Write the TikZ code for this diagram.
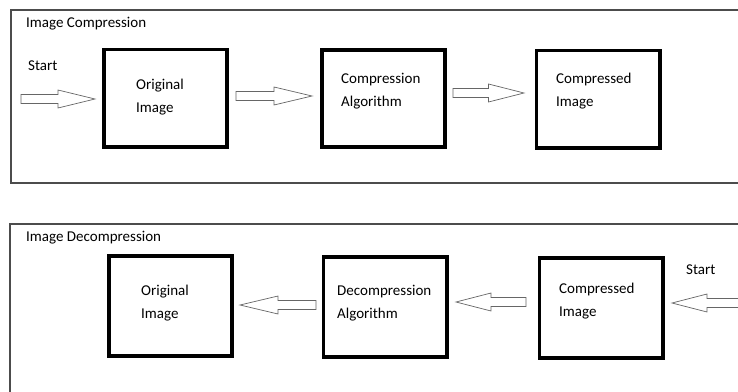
\documentclass[tikz,border=0pt]{standalone}
\usepackage{fontspec}
\setmainfont{Carlito}
\usetikzlibrary{calc}
\tikzset{
  cmpbox/.style = {draw=black, line width=3.8pt, minimum width=123.2pt,
    minimum height=97.2pt, inner sep=0pt},
  cmpboxb/.style = {cmpbox, minimum height=100.2pt},
  cmptxt/.style = {font=\fontsize{15}{23}\selectfont, align=left,
    anchor=west, inner sep=0pt},
  cmptit/.style = {font=\fontsize{15}{18}\selectfont, anchor=west,
    inner sep=0pt},
  cmpfr/.style = {draw=black!70, line width=1.2pt},
  cmpseta/.style = {draw=black!60, fill=white, line width=0.7pt,
    line join=miter}
}
% block arrow: #1 tail, #2 tip
\newcommand{\cSeta}[2]{%
  \draw [cmpseta] ($(#1)+(0,4.5)$) -- ($(#1)!0.5!(#2)+(0,4.5)$)
    -- ($(#1)!0.5!(#2)+(0,9)$) -- (#2) -- ($(#1)!0.5!(#2)+(0,-9)$)
    -- ($(#1)!0.5!(#2)+(0,-4.5)$) -- ($(#1)+(0,-4.5)$) -- cycle;}

\begin{document}
\begin{tikzpicture}[x=1pt, y=-1pt]
  \clip (0,0) rectangle (738,391);
  \fill [white] (0,0) rectangle (738,391);
  % compression
  \draw [cmpfr] (760,10) -- (11,10) -- (11,183) -- (760,183);
  \node [cmptit] (t1) at (26,23.5) {Image Compression};
  \node [cmptit] (s1) at (28,66) {Start};
  \node [cmpbox] (o1) at (165.5,98) {};
  \node [cmpbox] (a1) at (383.5,98.5) {};
  \node [cmpbox] (c1) at (598,99) {};
  \node [cmptxt] (o1t) at (136,97.5) {Original\\Image};
  \node [cmptxt] (a1t) at (341,91) {Compression\\Algorithm};
  \node [cmptxt] (c1t) at (556,91.5) {Compressed\\Image};
  \coordinate (p0) at (21,99);
  \coordinate (p1) at (95,99);
  \coordinate (p2) at (236,96);
  \coordinate (p3) at (312,96);
  \coordinate (p4) at (453,93);
  \coordinate (p5) at (524,93);
  \cSeta{p0}{p1}
  \cSeta{p2}{p3}
  \cSeta{p4}{p5}
  % decompression
  \draw [cmpfr] (760,224) -- (10,224) -- (10,400);
  \node [cmptit] (t2) at (26,237.5) {Image Decompression};
  \node [cmptit] (s2) at (686,270) {Start};
  \node [cmpboxb] (o2) at (170.5,306) {};
  \node [cmpboxb] (a2) at (385,307) {};
  \node [cmpboxb] (c2) at (601,308) {};
  \node [cmptxt] (o2t) at (141,303.5) {Original\\Image};
  \node [cmptxt] (a2t) at (337,303) {Decompression\\Algorithm};
  \node [cmptxt] (c2t) at (559,301) {Compressed\\Image};
  \coordinate (q0) at (742,303);
  \coordinate (q1) at (672,303);
  \coordinate (q2) at (526,302);
  \coordinate (q3) at (456,302);
  \coordinate (q4) at (316,305);
  \coordinate (q5) at (240,305);
  \cSeta{q0}{q1}
  \cSeta{q2}{q3}
  \cSeta{q4}{q5}
\end{tikzpicture}
\end{document}
